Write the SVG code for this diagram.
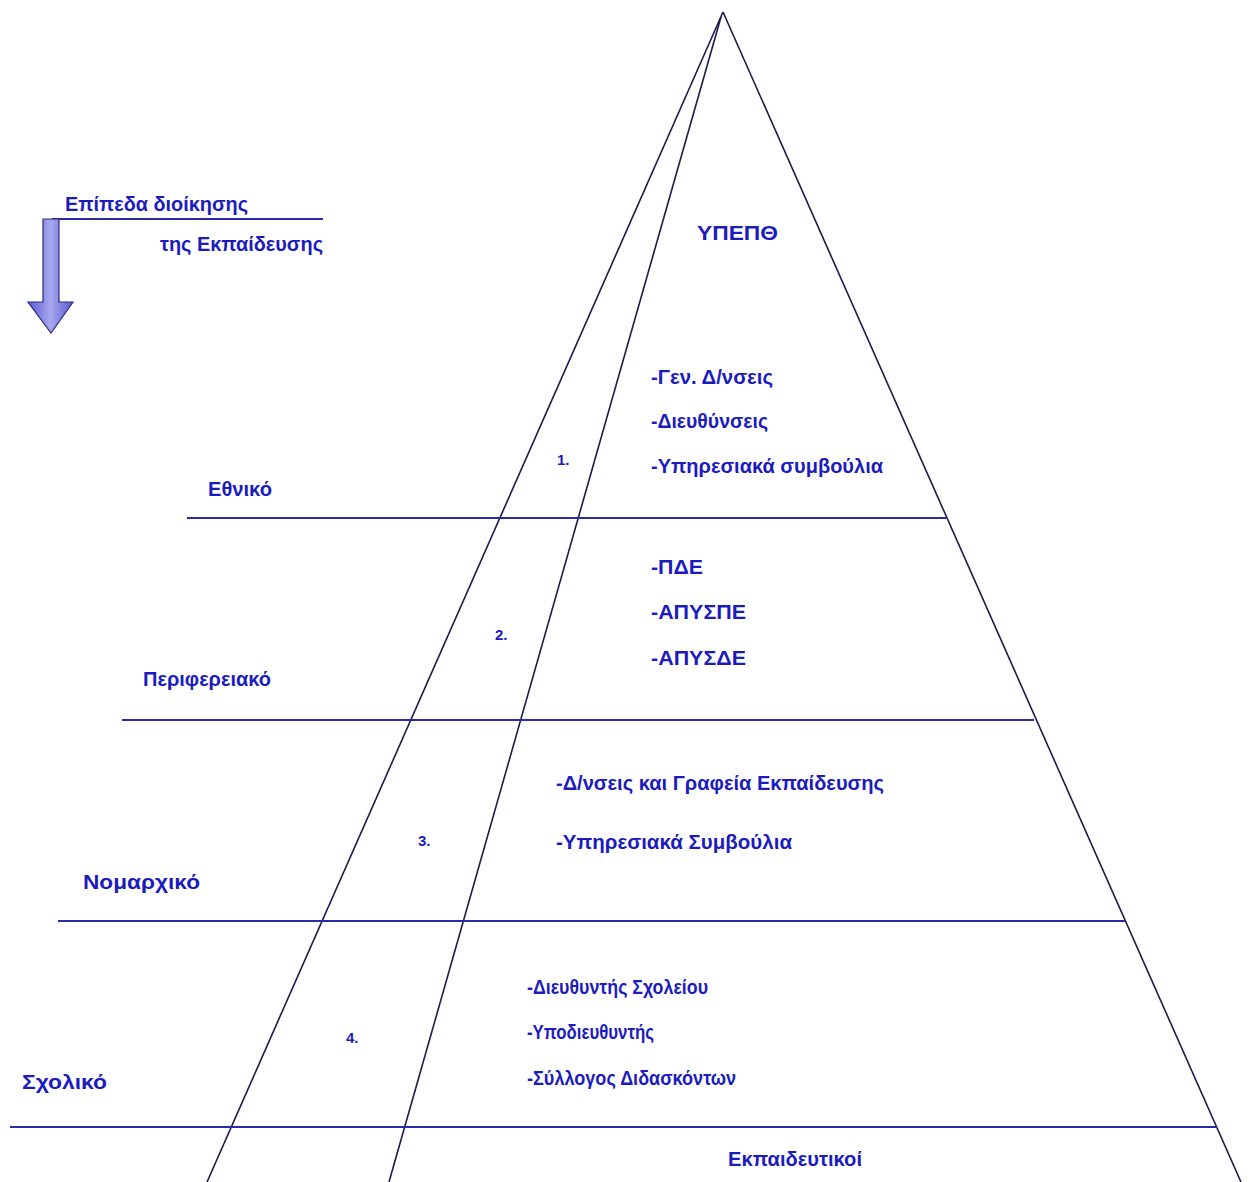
<svg xmlns="http://www.w3.org/2000/svg" width="1249" height="1182" viewBox="0 0 1249 1182">
<style>
.t{font-family:"Liberation Sans",Arial,sans-serif;font-weight:bold;font-size:20px;fill:#1c1cbe}
.n{font-family:"Liberation Sans",Arial,sans-serif;font-weight:bold;font-size:15px;fill:#1c1cbe}
.h{stroke:#2b2ba6;stroke-width:2.2;fill:none}
.p{stroke:#1c1c4c;stroke-width:1.6;fill:none}
</style>
<defs>
<linearGradient id="ag" x1="0" y1="0" x2="1" y2="0">
<stop offset="0" stop-color="#5a5ad0"/>
<stop offset="0.5" stop-color="#a8a8f0"/>
<stop offset="1" stop-color="#5a5ad0"/>
</linearGradient>
</defs>
<rect width="1249" height="1182" fill="#ffffff"/>
<g id="connectors">
<line class="p" x1="723" y1="12" x2="207" y2="1182"/>
<line class="p" x1="721" y1="17" x2="389" y2="1182"/>
<line class="p" x1="723" y1="12" x2="1241" y2="1182"/>
<line class="h" x1="52" y1="219" x2="323" y2="219"/>
<line class="h" x1="187" y1="518" x2="946" y2="518"/>
<line class="h" x1="122" y1="720" x2="1034" y2="720"/>
<line class="h" x1="58" y1="921" x2="1125" y2="921"/>
<line class="h" x1="10" y1="1127" x2="1217" y2="1127"/>
</g>
<g id="arrow">
<path d="M43,219 L59,219 L59,302 L73,302 L51,333 L28,302 L43,302 Z" fill="url(#ag)" stroke="#2a2a80" stroke-width="1.2"/>
</g>
<g id="legend">
<text class="t" x="65" y="211" textLength="183" lengthAdjust="spacingAndGlyphs">Επίπεδα διοίκησης</text>
<text class="t" x="160" y="251" textLength="163" lengthAdjust="spacingAndGlyphs">της Εκπαίδευσης</text>
</g>
<g id="top">
<text class="t" x="697" y="240" textLength="81" lengthAdjust="spacingAndGlyphs">ΥΠΕΠΘ</text>
</g>
<g id="level1">
<text class="t" x="208" y="496" textLength="64" lengthAdjust="spacingAndGlyphs">Εθνικό</text>
<text class="n" x="557" y="465">1.</text>
<text class="t" x="651" y="384" textLength="122" lengthAdjust="spacingAndGlyphs">-Γεν. Δ/νσεις</text>
<text class="t" x="651" y="428" textLength="117" lengthAdjust="spacingAndGlyphs">-Διευθύνσεις</text>
<text class="t" x="651" y="473" textLength="232" lengthAdjust="spacingAndGlyphs">-Υπηρεσιακά συμβούλια</text>
</g>
<g id="level2">
<text class="t" x="143" y="686" textLength="128" lengthAdjust="spacingAndGlyphs">Περιφερειακό</text>
<text class="n" x="495" y="640">2.</text>
<text class="t" x="651" y="574" textLength="52" lengthAdjust="spacingAndGlyphs">-ΠΔΕ</text>
<text class="t" x="651" y="619" textLength="95" lengthAdjust="spacingAndGlyphs">-ΑΠΥΣΠΕ</text>
<text class="t" x="651" y="665" textLength="95" lengthAdjust="spacingAndGlyphs">-ΑΠΥΣΔΕ</text>
</g>
<g id="level3">
<text class="t" x="83" y="889" textLength="117" lengthAdjust="spacingAndGlyphs">Νομαρχικό</text>
<text class="n" x="418" y="846">3.</text>
<text class="t" x="556" y="790" textLength="328" lengthAdjust="spacingAndGlyphs">-Δ/νσεις και Γραφεία Εκπαίδευσης</text>
<text class="t" x="556" y="849" textLength="236" lengthAdjust="spacingAndGlyphs">-Υπηρεσιακά Συμβούλια</text>
</g>
<g id="level4">
<text class="t" x="22" y="1089" textLength="85" lengthAdjust="spacingAndGlyphs">Σχολικό</text>
<text class="n" x="346" y="1043">4.</text>
<text class="t" x="527" y="994" textLength="181" lengthAdjust="spacingAndGlyphs">-Διευθυντής Σχολείου</text>
<text class="t" x="527" y="1039" textLength="127" lengthAdjust="spacingAndGlyphs">-Υποδιευθυντής</text>
<text class="t" x="527" y="1085" textLength="209" lengthAdjust="spacingAndGlyphs">-Σύλλογος Διδασκόντων</text>
</g>
<g id="base">
<text class="t" x="728" y="1166" textLength="134" lengthAdjust="spacingAndGlyphs">Εκπαιδευτικοί</text>
</g>
</svg>
